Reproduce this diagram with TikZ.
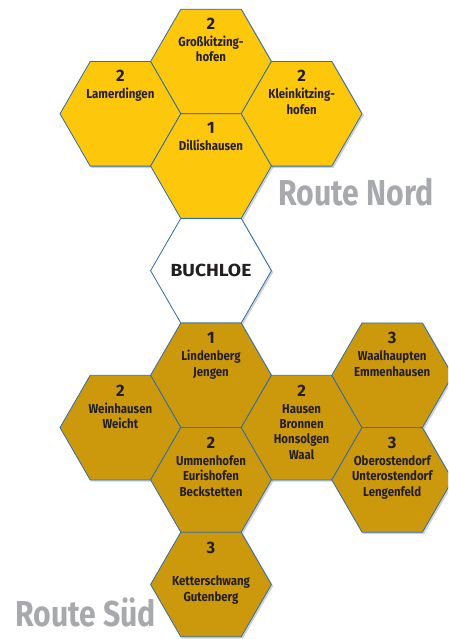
\documentclass[tikz,border=0pt]{standalone}
\usepackage{fontspec}
\setmainfont{Fira Sans}
\newfontfamily\condfont{Fira Sans}[FakeStretch=0.88]
\newfontfamily\routefont{Fira Sans}[FakeStretch=0.84]
\newfontfamily\widefont{Fira Sans}[FakeStretch=1.1]
\usetikzlibrary{shapes.geometric}
\definecolor{northfill}{RGB}{253,199,12}
\definecolor{southfill}{RGB}{204,153,13}
\definecolor{edgeblue}{RGB}{47,109,165}
\definecolor{ink}{RGB}{35,31,32}
\definecolor{routegray}{RGB}{167,169,172}
\newcommand{\hexlines}[1]{\begin{tabular}[t]{@{}c@{}}#1\end{tabular}}
\begin{document}
\begin{tikzpicture}[x=1pt,y=-1pt,
  hexbox/.style={regular polygon, regular polygon sides=6, minimum size=120.8pt,
    inner sep=0pt, outer sep=0pt, draw=edgeblue, line width=0.8pt},
  hexshadow/.style={regular polygon, regular polygon sides=6, minimum size=121.5pt,
    inner sep=0pt, outer sep=0pt, fill=black, fill opacity=0.18, draw=none},
  nhex/.style={hexbox, fill=northfill},
  shex/.style={hexbox, fill=southfill},
  whex/.style={hexbox, fill=white},
  numtext/.style={anchor=base, inner sep=0pt, text=ink, font=\bfseries\fontsize{16.5}{18}\selectfont},
  nametext/.style={anchor=base, inner sep=0pt, text=ink,
    font=\condfont\bfseries\fontsize{13}{15.3}\selectfont},
  routetext/.style={anchor=base west, inner sep=0pt, text=routegray,
    font=\routefont\bfseries\fontsize{36}{40}\selectfont}
]
\useasboundingbox (0,0) rectangle (448,639);
\clip (0,0) rectangle (448,639);

% shadows
\node[hexshadow] (s1) at (212.5,63) {};
\node[hexshadow] (s2) at (121.9,115.3) {};
\node[hexshadow] (s3) at (303.1,115.3) {};
\node[hexshadow] (s4) at (212.5,167.6) {};
\node[hexshadow] (s5) at (212.5,272.2) {};
\node[hexshadow] (s6) at (212.5,376.8) {};
\node[hexshadow] (s7) at (121.9,429.1) {};
\node[hexshadow] (s8) at (303.1,429.1) {};
\node[hexshadow] (s9) at (393.7,376.8) {};
\node[hexshadow] (s10) at (212.5,481.4) {};
\node[hexshadow] (s11) at (393.7,481.4) {};
\node[hexshadow] (s12) at (212.5,586) {};

% north
\node[nhex] (gross) at (211,61.5) {};
\node[nhex] (lamer) at (120.4,113.8) {};
\node[nhex] (klein) at (301.6,113.8) {};
\node[nhex] (dilli) at (211,166.1) {};
% centre
\node[whex] (buch) at (211,270.7) {};
% south
\node[shex] (linden) at (211,375.3) {};
\node[shex] (wein) at (120.4,427.6) {};
\node[shex] (hausen) at (301.6,427.6) {};
\node[shex] (waalh) at (392.2,375.3) {};
\node[shex] (ummen) at (211,479.9) {};
\node[shex] (ober) at (392.2,479.9) {};
\node[shex] (ketter) at (211,584.5) {};

% texts
\node[numtext] (gross-n) at ([yshift=-20.5pt]gross.north) {2};
\node[nametext] (gross-t) at ([yshift=-37.5pt]gross.north) {\hexlines{Großkitzing-\\hofen}};
\node[numtext] (lamer-n) at ([yshift=-20.5pt]lamer.north) {2};
\node[nametext] (lamer-t) at ([yshift=-37.5pt]lamer.north) {\hexlines{Lamerdingen}};
\node[numtext] (klein-n) at ([yshift=-20.5pt]klein.north) {2};
\node[nametext] (klein-t) at ([yshift=-37.5pt]klein.north) {\hexlines{Kleinkitzing-\\hofen}};
\node[numtext] (dilli-n) at ([yshift=-19.5pt]dilli.north) {1};
\node[nametext] (dilli-t) at ([yshift=-37pt]dilli.north) {\hexlines{Dillishausen}};

\node[inner sep=0pt, text=ink, font=\widefont\bfseries\fontsize{17.5}{20}\selectfont] (buch-t) at (buch.center) {BUCHLOE};

\node[numtext] (linden-n) at ([yshift=-21pt]linden.north) {1};
\node[nametext] (linden-t) at ([yshift=-38pt]linden.north) {\hexlines{Lindenberg\\Jengen}};
\node[numtext] (wein-n) at ([yshift=-21pt]wein.north) {2};
\node[nametext] (wein-t) at ([yshift=-38pt]wein.north) {\hexlines{Weinhausen\\Weicht}};
\node[numtext] (hausen-n) at ([yshift=-21pt]hausen.north) {2};
\node[nametext] (hausen-t) at ([yshift=-38pt]hausen.north) {\hexlines{Hausen\\Bronnen\\Honsolgen\\Waal}};
\node[numtext] (waalh-n) at ([yshift=-21pt]waalh.north) {3};
\node[nametext] (waalh-t) at ([yshift=-38pt]waalh.north) {\hexlines{Waalhaupten\\Emmenhausen}};
\node[numtext] (ummen-n) at ([yshift=-21pt]ummen.north) {2};
\node[nametext] (ummen-t) at ([yshift=-38pt]ummen.north) {\hexlines{Ummenhofen\\Eurishofen\\Beckstetten}};
\node[numtext] (ober-n) at ([yshift=-21pt]ober.north) {3};
\node[nametext] (ober-t) at ([yshift=-38pt]ober.north) {\hexlines{Oberostendorf\\Unterostendorf\\Lengenfeld}};
\node[numtext] (ketter-n) at ([yshift=-21pt]ketter.north) {3};
\node[nametext] (ketter-t) at ([yshift=-53.7pt]ketter.north) {\hexlines{Ketterschwang\\Gutenberg}};

\node[routetext] (nord) at (278,205.7) {Route Nord};
\node[routetext] (sued) at (15,626) {Route Süd};
\end{tikzpicture}
\end{document}
